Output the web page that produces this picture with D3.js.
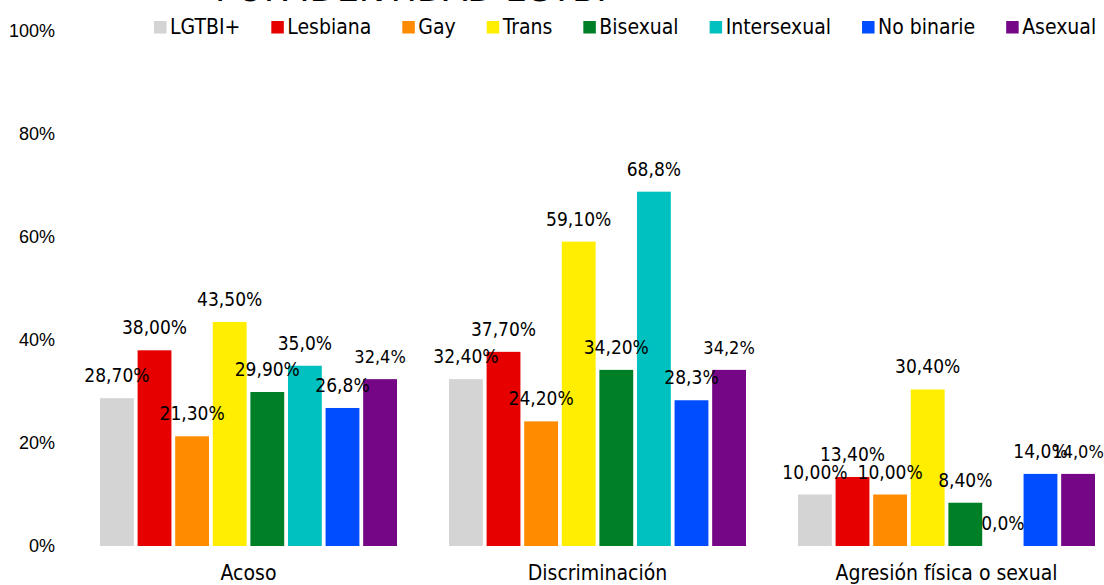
<!DOCTYPE html>
<html>
<head>
<meta charset="utf-8">
<script src="https://cdn.jsdelivr.net/npm/d3@7"></script>
<style>
  body { margin: 0; background: #fff; }
  svg text { font-family: "DejaVu Sans Condensed", "DejaVu Sans", sans-serif; font-stretch: condensed; fill: #000; }
  svg text.tick { font-family: "Liberation Sans", Arial, sans-serif; font-stretch: normal; }
</style>
</head>
<body>
<svg id="chart" width="1104" height="585"></svg>
<script>
// data
var categories = ["Acoso", "Discriminación", "Agresión física o sexual"];
var groups = ["LGTBI+", "Lesbiana", "Gay", "Trans", "Bisexual", "Intersexual", "No binarie", "Asexual"];
var colors = ["#d4d4d4", "#e60000", "#ff8c00", "#ffee00", "#008026", "#00c0c0", "#004dff", "#750787"];
var acoso = [28.7, 38.0, 21.3, 43.5, 29.9, 35.0, 26.8, 32.4];
var discriminacion = [32.4, 37.7, 24.2, 59.1, 34.2, 68.8, 28.3, 34.2];
var agresion = [10.0, 13.4, 10.0, 30.4, 8.4, 0.0, 14.0, 14.0];
var acosoLabels = ["28,70%", "38,00%", "21,30%", "43,50%", "29,90%", "35,0%", "26,8%", "32,4%"];
var discriminacionLabels = ["32,40%", "37,70%", "24,20%", "59,10%", "34,20%", "68,8%", "28,3%", "34,2%"];
var agresionLabels = ["10,00%", "13,40%", "10,00%", "30,40%", "8,40%", "0,0%", "14,0%", "14,0%"];
var yTicks = [0, 20, 40, 60, 80, 100];
var title = "POR IDENTIDAD LGTBI";

var series = [acoso, discriminacion, agresion];
var seriesLabels = [acosoLabels, discriminacionLabels, agresionLabels];

var svg = d3.select("#chart");

var x0 = d3.scaleBand().domain(categories).range([74, 1121])
    .paddingInner(0.149).paddingOuter(0.0745);
var x1 = d3.scaleBand().domain(groups).range([0, x0.bandwidth()]).paddingInner(0.1);
var y = d3.scaleLinear().domain([0, 100]).range([546, 31]);
var color = d3.scaleOrdinal().domain(groups).range(colors);

// title, mostly cut off at the top
svg.append("text")
    .attr("x", 215).attr("y", 1)
    .style("font-size", "39px")
    .text(title);

// y axis labels only
svg.append("g").selectAll("text")
    .data(yTicks)
    .join("text")
    .attr("class", "tick")
    .attr("x", 55)
    .attr("y", function(d){ return y(d); })
    .attr("dy", "0.35em")
    .attr("text-anchor", "end")
    .style("font-size", "18px")
    .text(function(d){ return d + "%"; });

// bars
var cat = svg.append("g").selectAll("g")
    .data(categories)
    .join("g")
    .attr("transform", function(d){ return "translate(" + x0(d) + ",0)"; });

function rows(d, i){
    return groups.map(function(g, j){ return {g: g, v: series[i][j], l: seriesLabels[i][j]}; });
}

cat.selectAll("rect")
    .data(rows)
    .join("rect")
    .attr("x", function(d){ return x1(d.g); })
    .attr("y", function(d){ return y(d.v); })
    .attr("width", x1.bandwidth())
    .attr("height", function(d){ return y(0) - y(d.v); })
    .attr("fill", function(d){ return color(d.g); });

cat.selectAll("text.lbl")
    .data(rows)
    .join("text")
    .attr("class", "lbl")
    .attr("x", function(d){ return x1(d.g) + x1.bandwidth() / 2; })
    .attr("y", function(d){ return y(d.v) - 16; })
    .attr("text-anchor", "middle")
    .style("font-size", function(d){ return d.g == "Asexual" ? "18px" : "19px"; })
    .text(function(d){ return d.l; });

// category labels
svg.append("g").selectAll("text")
    .data(categories)
    .join("text")
    .attr("x", function(d){ return x0(d) + x0.bandwidth() / 2; })
    .attr("y", 580)
    .attr("text-anchor", "middle")
    .style("font-size", "21px")
    .text(function(d){ return d; });

// legend
var legend = svg.append("g");
var lx = 154;
groups.forEach(function(g){
    legend.append("rect")
        .attr("x", lx).attr("y", 21)
        .attr("width", 12.5).attr("height", 12.5)
        .attr("fill", color(g));
    var t = legend.append("text")
        .attr("x", lx + 16).attr("y", 34)
        .style("font-size", "21px")
        .text(g);
    lx += 16 + t.node().getComputedTextLength() + 31;
});
</script>
</body>
</html>
